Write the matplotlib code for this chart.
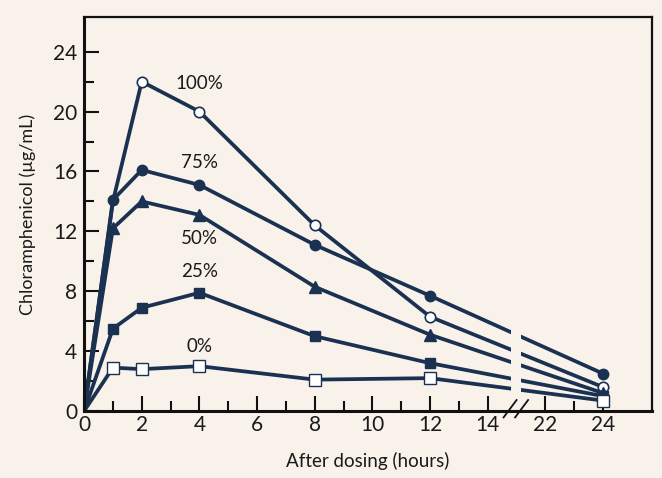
import matplotlib
matplotlib.use("Agg")
import matplotlib.pyplot as plt
import matplotlib.transforms as mtransforms
import numpy as np

plt.rcParams['font.family'] = ['Lato', 'DejaVu Sans']

# ---------------- data ----------------
hours = [0, 1, 2, 4, 8, 12, 24]
conc_100 = [0, 14.0, 22.0, 20.0, 12.4, 6.3, 1.6]
conc_75 = [0, 14.1, 16.1, 15.1, 11.1, 7.7, 2.5]
conc_50 = [0, 12.2, 14.0, 13.1, 8.3, 5.1, 1.2]
conc_25 = [0, 5.5, 6.9, 7.9, 5.0, 3.2, 1.0]
conc_0 = [0, 2.9, 2.8, 3.0, 2.1, 2.2, 0.7]
series_labels = ["100%", "75%", "50%", "25%", "0%"]
label_pos_y = [21.9, 16.6, 11.5, 9.3, 4.3]

x_major_hours = [0, 2, 4, 6, 8, 10, 12, 14, 22, 24]
x_minor_hours = [1, 3, 5, 7, 9, 11, 13, 23]
y_major = [0, 4, 8, 12, 16, 20, 24]
y_minor = [2, 6, 10, 14, 18, 22]

# broken axis: hours >= 22 are shifted left by 6 on the drawing scale
BREAK_SHIFT = 6
def to_plot(h):
    h = np.asarray(h, dtype=float)
    return np.where(h >= 22, h - BREAK_SHIFT, h)

navy = "#1b3152"
bg = "#f8f2ea"

fig = plt.figure(figsize=(6.62, 4.78), dpi=100, facecolor=bg)
ax = fig.add_axes([0.127, 0.140, 0.858, 0.824])
ax.set_facecolor(bg)

xp = to_plot(hours)
styles = [
    (conc_100, dict(marker='o', mfc='white', mec=navy, ms=7.5, mew=1.2), 3.0, [2, 3, 4, 5, 6]),
    (conc_75, dict(marker='o', mfc=navy, mec=navy, ms=7.5), 3.2, [1, 2, 3, 4, 5, 6]),
    (conc_50, dict(marker='^', mfc=navy, mec=navy, ms=8.5), 3.0, [1, 2, 3, 4, 5, 6]),
    (conc_25, dict(marker='s', mfc=navy, mec=navy, ms=7.5), 3.0, [1, 2, 3, 4, 5, 6]),
    (conc_0, dict(marker='s', mfc='white', mec=navy, ms=8, mew=1.0), 3.3, [1, 2, 3, 4, 5, 6]),
]
for vals, mk, z, me in styles:
    ax.plot(xp, vals, color=navy, lw=2.7, markevery=me,
            zorder=z, solid_capstyle='butt', **mk)

# gap in the lines across the axis break
ax.axvspan(14.8, 15.15, ymin=0.005, ymax=0.9, color=bg, zorder=3.5, lw=0)

for lab, yy in zip(series_labels, label_pos_y):
    ax.text(4.0, yy, lab, ha='center', va='center', fontsize=13.5,
            color='#1a1a1a', zorder=5)

ax.set_xlim(0, 19.7)
ax.set_ylim(0, 26.3)

ax.set_xticks(to_plot(x_major_hours))
ax.set_xticklabels([str(h) for h in x_major_hours])
ax.set_xticks(to_plot(x_minor_hours), minor=True)
ax.set_yticks(y_major)
ax.set_yticks(y_minor, minor=True)

ax.tick_params(axis='both', which='major', direction='in', length=11, width=1.5,
               color='#111111', labelsize=15, labelcolor='#1a1a1a')
ax.tick_params(axis='both', which='minor', direction='in', length=7, width=1.5,
               color='#111111')
ax.tick_params(axis='x', which='major', pad=3)
ax.tick_params(axis='y', which='major', pad=5)

for side in ['left', 'bottom']:
    ax.spines[side].set_linewidth(2.2)
    ax.spines[side].set_color('#111111')
    ax.spines[side].set_zorder(6)
for side in ['top', 'right']:
    ax.spines[side].set_linewidth(1.6)
    ax.spines[side].set_color('#111111')

# break marks "//" on the x axis
trans = mtransforms.blended_transform_factory(ax.transData, ax.transAxes)
for x0 in (14.55, 14.95):
    ax.plot([x0, x0 + 0.45], [-0.016, 0.028], transform=trans, color='#111111',
            lw=1.3, clip_on=False, zorder=7)

ax.set_xlabel("After dosing (hours)", fontsize=13.5, color='#1a1a1a', labelpad=12)
ax.set_ylabel("Chloramphenicol (µg/mL)", fontsize=13, color='#1a1a1a', labelpad=12)

fig.savefig("out.png", dpi=100, facecolor=bg)
